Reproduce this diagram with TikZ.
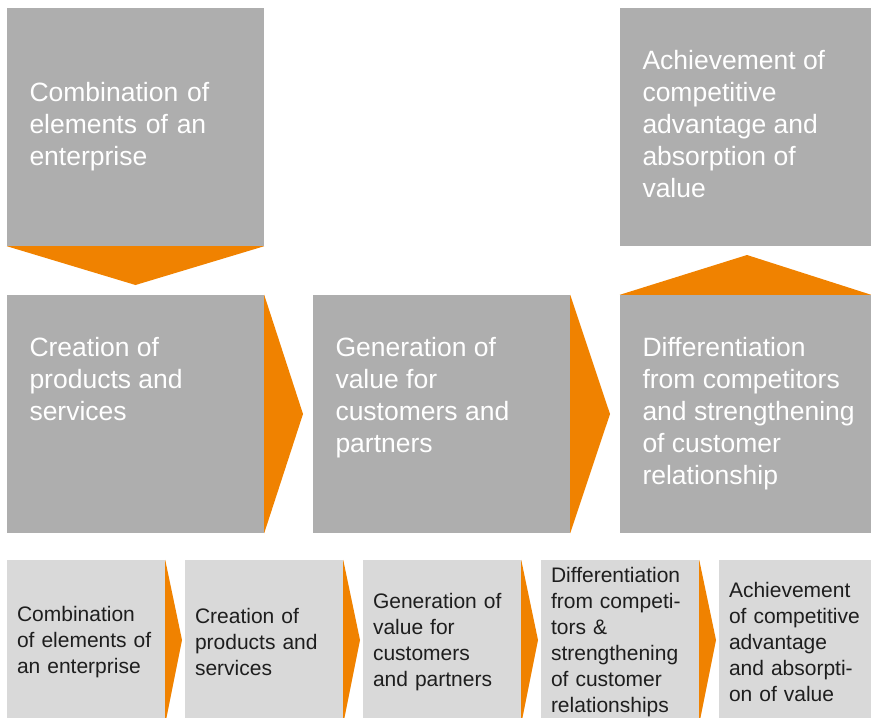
\documentclass[tikz,border=0pt]{standalone}
\usepackage{fontspec}
\setmainfont{Liberation Sans}
\usepackage{tikz}
\usetikzlibrary{positioning}

\definecolor{boxgray}{RGB}{174,174,174}
\definecolor{stripgray}{RGB}{217,217,217}
\definecolor{arroworange}{RGB}{240,130,0}
\definecolor{stripink}{RGB}{30,30,30}
\newcommand{\boxfont}{\fontsize{26.5}{32}\selectfont}
\newcommand{\stripfont}{\fontsize{21}{26}\selectfont}

\begin{document}
\begin{tikzpicture}[x=1pt,y=-1pt]
    \useasboundingbox (0,0) rectangle (871,718);

        % big grey boxes, coordinates are the box centres
        \begin{scope}[every node/.style={rectangle,fill=boxgray,inner sep=0pt,text=white,font=\boxfont,align=left}]
        \node[minimum width=257pt,minimum height=238pt,text width=212pt] (A) at (135.5,127) {Combination of\\elements of an\\enterprise};
        \node[minimum width=257pt,minimum height=238pt] (B) at (135.5,414) {};
        \node[minimum width=257pt,minimum height=238pt] (C) at (441.5,414) {};
        \node[minimum width=251pt,minimum height=238pt] (D) at (745.5,414) {};
        \node[minimum width=251pt,minimum height=238pt] (E) at (745.5,127) {};
        \end{scope}

        % these texts sit at the top of their box
        \begin{scope}[every node/.style={fill=none,inner sep=0pt,text=white,font=\boxfont,align=left}]
        \node[below right=42.5pt and 22.5pt of B.north west] (Btext) {Creation of\\products and\\services};
        \node[below right=42.5pt and 22.5pt of C.north west] (Ctext) {Generation of\\value for\\customers and\\partners};
        \node[below right=42.5pt and 22.5pt of D.north west] (Dtext) {Differentiation\\from competitors\\and strengthening\\of customer\\relationship};
        \node[below right=42.5pt and 22.5pt of E.north west] (Etext) {Achievement of\\competitive\\advantage and\\absorption of\\value};
        \end{scope}

        % small light boxes at the bottom (cut off by the page edge)
        \begin{scope}[every node/.style={rectangle,fill=stripgray,inner sep=0pt,text=stripink,font=\stripfont,align=left,minimum height=164pt,minimum width=158pt,text width=138pt}]
        \node (s1) at (86,642) {Combination\\of elements of\\an enterprise};
        \node (s2) at (264,642) {Creation of\\products and\\services};
        \node (s3) at (442,642) {Generation of\\value for\\customers\\and partners};
        \node (s4) at (620,642) {Differentiation\\from competi-\\tors \&\\strengthening\\of customer\\relationships};
        \node[minimum width=152pt,text width=132pt] (s5) at (795,642) {Achievement\\of competitive\\advantage\\and absorpti-\\on of value};
        \end{scope}

        % tips of the orange arrows
        \coordinate (AB) at (135.5,285);
        \coordinate (BC) at (303,414);
        \coordinate (CD) at (610,414);
        \coordinate (DE) at (747,255);
        \coordinate (s12) at (182,640);
        \coordinate (s23) at (360,640);
        \coordinate (s34) at (538,640);
        \coordinate (s45) at (716,640);

        % orange arrows
        \begin{scope}[every path/.style={fill=arroworange}]
        \path (A.south west) -- (A.south east) -- (AB) -- cycle;
        \path (B.north east) -- (B.south east) -- (BC) -- cycle;
        \path (C.north east) -- (C.south east) -- (CD) -- cycle;
        \path (D.north west) -- (D.north east) -- (DE) -- cycle;
        \path (s1.north east) -- (s1.south east) -- (s12) -- cycle;
        \path (s2.north east) -- (s2.south east) -- (s23) -- cycle;
        \path (s3.north east) -- (s3.south east) -- (s34) -- cycle;
        \path (s4.north east) -- (s4.south east) -- (s45) -- cycle;
        \end{scope}

\end{tikzpicture}
\end{document}
